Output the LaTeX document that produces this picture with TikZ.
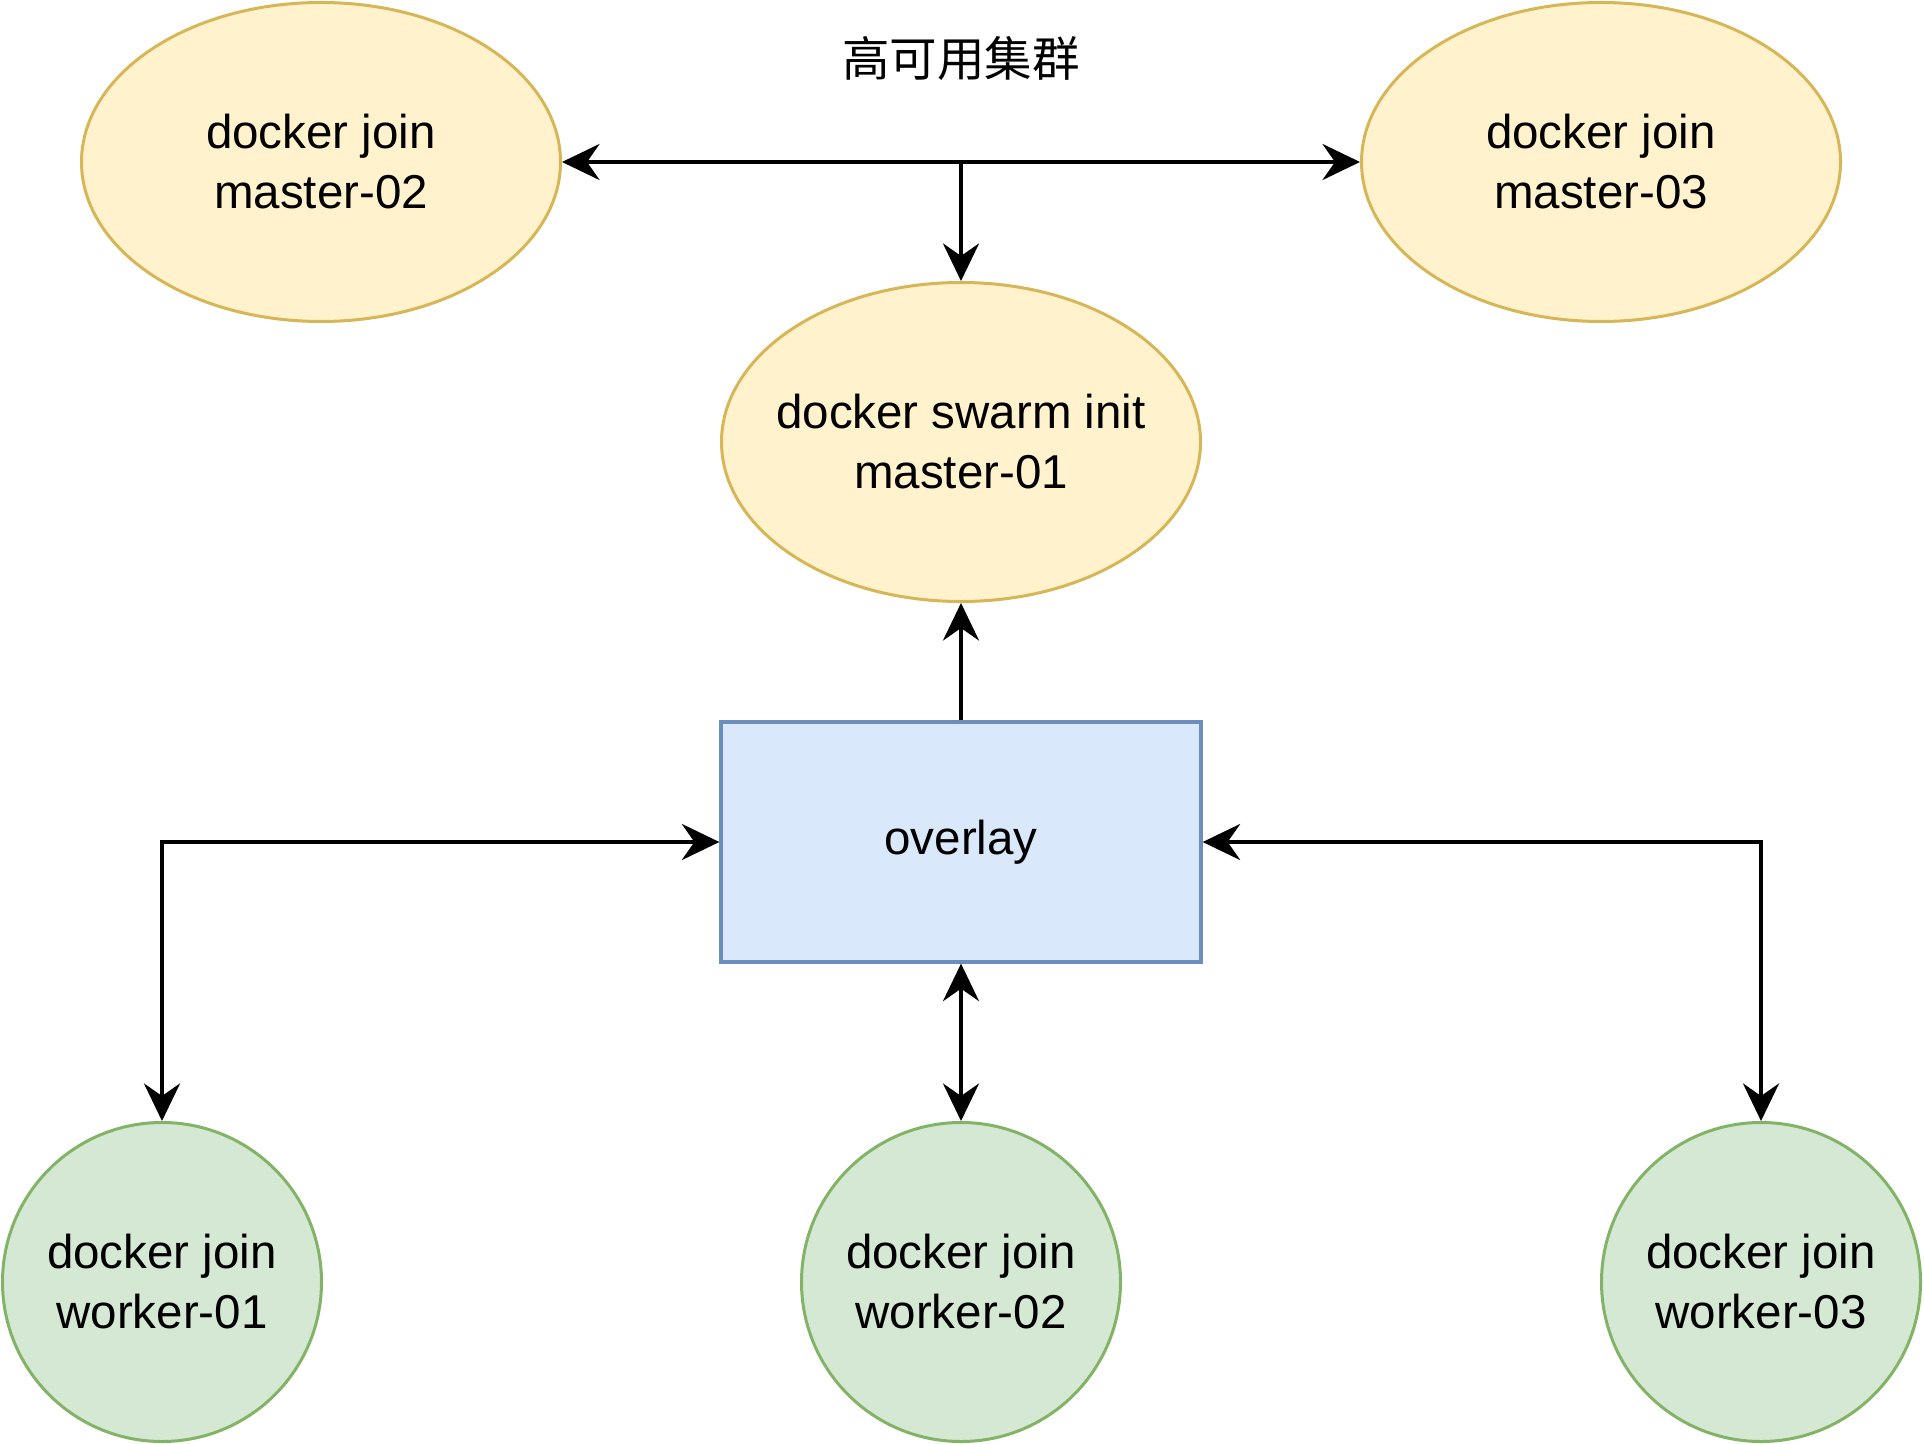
\documentclass[tikz,border=0pt]{standalone}
\usepackage{fontspec}
\setmainfont{Liberation Sans}
\newfontfamily\cjk{Noto Sans CJK SC}
\usetikzlibrary{shapes.geometric,arrows.meta}

\definecolor{yfill}{HTML}{FFF2CC}
\definecolor{ydraw}{HTML}{D6B656}
\definecolor{bfill}{HTML}{DAE8FC}
\definecolor{bdraw}{HTML}{6C8EBF}
\definecolor{gfill}{HTML}{D5E8D4}
\definecolor{gdraw}{HTML}{82B366}

\tikzset{
  master/.style={ellipse,draw=ydraw,fill=yfill,line width=1.2pt,inner sep=0pt,inner xsep=-12pt,
    minimum width=191.6pt,minimum height=127.6pt,align=center},
  worker/.style={circle,draw=gdraw,fill=gfill,line width=1.2pt,inner sep=0pt,
    minimum size=127.6pt,align=center},
  netbox/.style={rectangle,draw=bdraw,fill=bfill,line width=1.3pt,inner sep=0pt,
    minimum width=192pt,minimum height=96pt,align=center},
  link/.style={line width=1.6pt,-{Stealth[length=15pt,width=14.4pt,inset=5pt]}},
  dlink/.style={line width=1.6pt,{Stealth[length=15pt,width=14.4pt,inset=5pt]}-{Stealth[length=15pt,width=14.4pt,inset=5pt]}}
}

\begin{document}
\begin{tikzpicture}[x=0.4pt,y=-0.4pt,font=\fontsize{19}{24}\selectfont]
\useasboundingbox (0,0) rectangle (1924,1444);
\node (title) at (961,59) {\cjk 高可用集群};
\node[master] (m2) at (321,162) {docker join\\master-02};
\node[master] (m3) at (1601,162) {docker join\\master-03};
\node[master] (m1) at (961,442) {docker swarm init\\master-01};
\node[netbox] (ov) at (961,842) {overlay};
\node[worker] (w1) at (162,1282) {docker join\\worker-01};
\node[worker] (w2) at (961,1282) {docker join\\worker-02};
\node[worker] (w3) at (1761,1282) {docker join\\worker-03};
\coordinate (hub) at (m2.east -| m1.north);
\draw[dlink] (m2) -- (m3);
\draw[link] (hub) -- (m1);
\draw[link] (ov) -- (m1);
\draw[dlink] (w1.north) |- (ov.west);
\draw[dlink] (w2) -- (ov);
\draw[dlink] (w3.north) |- (ov.east);
\end{tikzpicture}
\end{document}
